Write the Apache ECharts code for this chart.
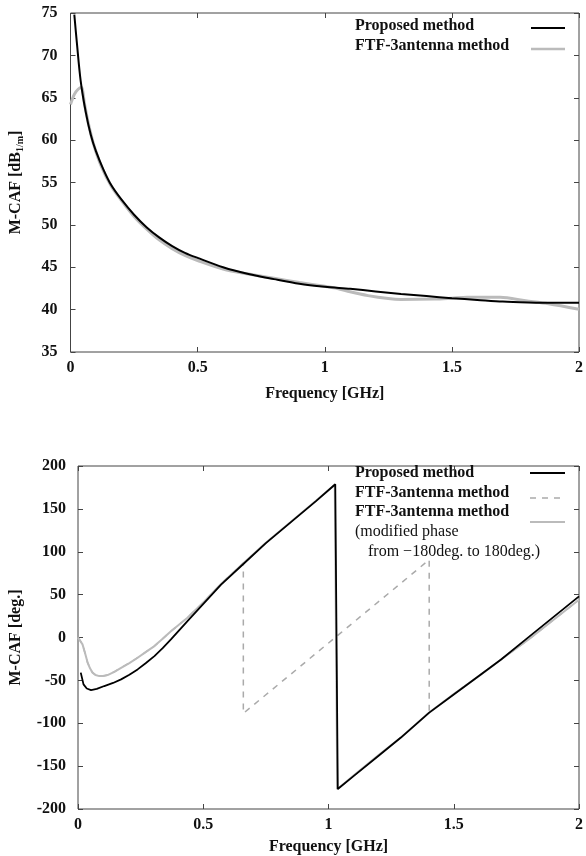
<!DOCTYPE html>
<html>
<head>
<meta charset="utf-8">
<script src="https://cdn.jsdelivr.net/npm/echarts@6/dist/echarts.min.js"></script>
<style>
html, body { margin: 0; padding: 0; background: #fff; }
#main { width: 586px; height: 856px; }
</style>
</head>
<body>
<div id="main"></div>
<script>
// amplitude (top panel)
var ampPropF = [0.015, 0.025, 0.04, 0.06, 0.08, 0.1, 0.13, 0.16, 0.2, 0.25, 0.3, 0.35, 0.4, 0.45, 0.5, 0.6, 0.7, 0.8, 0.9, 1.0, 1.1, 1.2, 1.3, 1.4, 1.5, 1.6, 1.7, 1.8, 1.9, 2.0];
var ampPropV = [74.8, 71.5, 67.0, 63.3, 60.6, 58.7, 56.5, 54.7, 53.0, 51.2, 49.7, 48.5, 47.5, 46.7, 46.1, 45.0, 44.2, 43.6, 43.05, 42.7, 42.45, 42.15, 41.85, 41.6, 41.35, 41.15, 40.95, 40.85, 40.8, 40.8];
var ampFtfF = [0, 0.015, 0.03, 0.043, 0.055, 0.07, 0.09, 0.12, 0.16, 0.2, 0.25, 0.3, 0.35, 0.4, 0.45, 0.5, 0.6, 0.7, 0.8, 0.9, 1.0, 1.05, 1.1, 1.17, 1.25, 1.3, 1.43, 1.5, 1.56, 1.69, 1.79, 1.88, 2.0];
var ampFtfV = [64.2, 65.4, 66.0, 66.2, 64.3, 62.0, 59.6, 57.0, 54.6, 52.9, 51.0, 49.5, 48.2, 47.2, 46.4, 45.8, 44.8, 44.2, 43.7, 43.2, 42.75, 42.5, 42.1, 41.65, 41.3, 41.2, 41.25, 41.35, 41.45, 41.45, 41.05, 40.7, 40.05];

// phase (bottom panel)
var phPropF = [0.011, 0.022, 0.035, 0.052, 0.075, 0.105, 0.14, 0.172, 0.205, 0.238, 0.27, 0.305, 0.338, 0.371, 0.437, 0.504, 0.571, 0.66, 0.75, 0.85, 0.95, 1.027, 1.037, 1.1, 1.2, 1.289, 1.402, 1.5, 1.6, 1.689, 1.8, 1.9, 2.0];
var phPropV = [-41, -54.7, -59.5, -61.3, -60, -56.6, -53, -48.8, -43.5, -37.2, -30, -21.7, -12.5, -2.3, 19, 40.3, 61.6, 85.7, 110, 134.5, 159, 178.7, -176.7, -161.7, -137.9, -116.7, -87.6, -66.4, -44.8, -25.6, 0.7, 24.4, 48];
var phModF = [0, 0.018, 0.028, 0.038, 0.048, 0.058, 0.07, 0.085, 0.1, 0.118, 0.145, 0.172, 0.205, 0.238, 0.27, 0.305, 0.338, 0.371, 0.437, 0.504, 0.571, 0.66, 0.75, 0.85, 0.95, 1.025, 1.035, 1.1, 1.2, 1.289, 1.402, 1.5, 1.6, 1.689, 1.8, 1.9, 2.0];
var phModV = [0, -8, -18, -29, -36, -41, -43.7, -45, -44.8, -43.8, -40, -35.3, -29.8, -23.6, -17, -10, -1.5, 7.4, 23, 42, 62.5, 86.5, 110.5, 135, 159.5, 178, -177, -161, -137, -116.7, -87.6, -66, -45, -25.6, -2, 21, 44];
var phRawF = [0, 0.018, 0.028, 0.038, 0.048, 0.058, 0.07, 0.085, 0.1, 0.118, 0.145, 0.172, 0.205, 0.238, 0.27, 0.305, 0.338, 0.371, 0.437, 0.504, 0.571, 0.66, 0.66, 0.75, 0.85, 0.95, 1.05, 1.15, 1.25, 1.35, 1.402, 1.402, 1.5, 1.6, 1.689, 1.8, 1.9, 2.0];
var phRawV = [0, -8, -18, -29, -36, -41, -43.7, -45, -44.8, -43.8, -40, -35.3, -29.8, -23.6, -17, -10, -1.5, 7.4, 23, 42, 62.5, 86.9, -88.5, -66.8, -42.7, -18.5, 5.6, 29.8, 53.9, 78.1, 90.7, -87.6, -66, -45, -25.6, -2, 21, 44];

function pairs(xs, ys)
{
    var out = [];
    for (var i = 0; i < xs.length; i++) out.push([xs[i], ys[i]]);
    return out;
}

var FONT = '"Liberation Serif", "DejaVu Serif", serif';
var tickStyle = {show: true, inside: true, length: 5, lineStyle: {color: '#444', width: 1}};

function xAxisDef(grid, pos, withLabels, gap)
{
    return {
        type: 'value', gridIndex: grid, position: pos,
        min: 0, max: 2, interval: 0.5,
        axisLine: {show: false, onZero: false},
        axisTick: tickStyle,
        splitLine: {show: false},
        axisLabel: {
            show: withLabels, margin: 8, color: '#111',
            fontFamily: FONT, fontWeight: 'bold', fontSize: 16,
            formatter: function (v) { return String(v); }
        },
        name: withLabels ? 'Frequency [GHz]' : '',
        nameLocation: 'middle', nameGap: gap,
        nameTextStyle: {color: '#111', fontFamily: FONT, fontWeight: 'bold', fontSize: 16}
    };
}

function yAxisDef(grid, pos, lo, hi, step, withLabels, name, gap, margin)
{
    return {
        type: 'value', gridIndex: grid, position: pos,
        min: lo, max: hi, interval: step,
        axisLine: {show: false, onZero: false},
        axisTick: tickStyle,
        splitLine: {show: false},
        axisLabel: {
            show: withLabels, margin: margin, color: '#111',
            fontFamily: FONT, fontWeight: 'bold', fontSize: 16
        },
        name: withLabels ? name : '',
        nameLocation: 'middle', nameGap: gap,
        nameTextStyle: {
            color: '#111', fontFamily: FONT, fontWeight: 'bold', fontSize: 16,
            rich: {
                a: {fontFamily: FONT, fontWeight: 'bold', fontSize: 16, color: '#111'},
                s: {fontFamily: FONT, fontWeight: 'bold', fontSize: 10, color: '#111', padding: [9, 0, 0, 0]}
            }
        }
    };
}

var legendFont = 'bold 16px ' + FONT;
var noteFont = '16px ' + FONT;

function legText(txt, x, y, font)
{
    return {type: 'text', x: x, y: y, silent: true,
        style: {text: txt, font: font, fill: '#111', verticalAlign: 'middle', align: 'left'}};
}
function legLine(x1, x2, y, color, width, dash)
{
    return {type: 'line', silent: true, shape: {x1: x1, y1: y, x2: x2, y2: y},
        style: {stroke: color, lineWidth: width, lineDash: dash || null}};
}

var myChart = echarts.init(document.getElementById('main'), null, {renderer: 'canvas'});
var option = {
    animation: false,
    backgroundColor: '#fff',
    grid: [
        {left: 68, top: 13, width: 512, height: 339, show: true, borderColor: '#444', borderWidth: 1, backgroundColor: 'transparent'},
        {left: 77, top: 466, width: 503, height: 344, show: true, borderColor: '#444', borderWidth: 1, backgroundColor: 'transparent'}
    ],
    xAxis: [
        xAxisDef(0, 'bottom', true, 34),
        xAxisDef(0, 'top', false, 0),
        xAxisDef(1, 'bottom', true, 30),
        xAxisDef(1, 'top', false, 0)
    ],
    yAxis: [
        yAxisDef(0, 'left', 35, 75, 5, true, '{a|M-CAF [dB}{s|1/m}{a|]}', 45, 13),
        yAxisDef(0, 'right', 35, 75, 5, false, '', 0, 8),
        yAxisDef(1, 'left', -200, 200, 50, true, 'M-CAF [deg.]', 54, 12),
        yAxisDef(1, 'right', -200, 200, 50, false, '', 0, 8)
    ],
    graphic: [
        legText('Proposed method', 355, 26, legendFont),
        legLine(531, 565, 28, '#000', 2),
        legText('FTF-3antenna method', 355, 46, legendFont),
        legLine(531, 565, 49, '#bbb', 2.5),

        legText('Proposed method', 355, 473, legendFont),
        legLine(530, 565, 473, '#000', 2),
        legText('FTF-3antenna method', 355, 493, legendFont),
        legLine(530, 565, 498, '#aaa', 1.5, [6, 6]),
        legText('FTF-3antenna method', 355, 512, legendFont),
        legLine(530, 565, 522, '#bbb', 2),
        legText('(modified phase', 355, 532, noteFont),
        legText('from \u2212180deg. to 180deg.)', 368, 552, noteFont)
    ],
    series: [
        {
            name: 'FTF-3antenna method', type: 'line', xAxisIndex: 0, yAxisIndex: 0,
            data: pairs(ampFtfF, ampFtfV), smooth: 0.3, showSymbol: false,
            lineStyle: {color: '#bbb', width: 3}
        },
        {
            name: 'Proposed method', type: 'line', xAxisIndex: 0, yAxisIndex: 0,
            data: pairs(ampPropF, ampPropV), smooth: 0.3, showSymbol: false,
            lineStyle: {color: '#000', width: 2}
        },
        {
            name: 'FTF-3antenna method (raw)', type: 'line', xAxisIndex: 2, yAxisIndex: 2,
            data: pairs(phRawF, phRawV), showSymbol: false,
            lineStyle: {color: '#aaa', width: 1.5, type: [6, 6]}
        },
        {
            name: 'FTF-3antenna method (modified)', type: 'line', xAxisIndex: 2, yAxisIndex: 2,
            data: pairs(phModF, phModV), showSymbol: false,
            lineStyle: {color: '#bbb', width: 2}
        },
        {
            name: 'Proposed method', type: 'line', xAxisIndex: 2, yAxisIndex: 2,
            data: pairs(phPropF, phPropV), showSymbol: false,
            lineStyle: {color: '#000', width: 1.8}
        }
    ]
};
myChart.setOption(option);
</script>
</body>
</html>
